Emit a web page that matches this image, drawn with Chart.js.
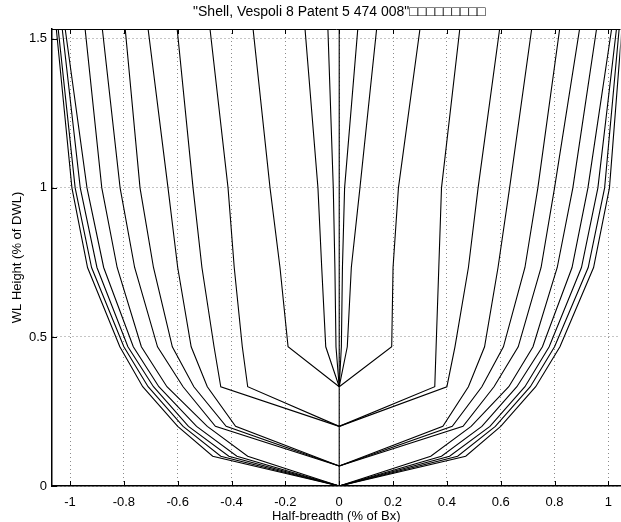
<!DOCTYPE html>
<html>
<head>
<meta charset="utf-8">
<script src="https://cdn.jsdelivr.net/npm/chart.js@4/dist/chart.umd.min.js"></script>
<style>
    html, body { margin: 0; padding: 0; background: #fff; }
    #wrap { width: 621px; height: 522px; }
</style>
</head>
<body>
<div id="wrap"><canvas id="bodyPlan" width="621" height="522"></canvas></div>
<script>
// Waterline heights (% of DWL) where each section has a vertex
const waterlines = [0, 0.067, 0.1, 0.2, 0.333, 0.467, 0.733, 1.0, 1.533];

// Half-breadths per section, left half of the plan (null = no vertex there)
const leftStations = [
    [0, null, 0.47, 0.60, 0.73, 0.815, 0.935, 0.993, 1.051],
    [0, null, 0.44, 0.58, 0.71, 0.80, 0.92, 0.981, 1.044],
    [0, null, 0.41, 0.56, 0.69, 0.785, 0.90, 0.962, 1.029],
    [0, null, 0.38, 0.53, 0.67, 0.765, 0.875, 0.937, 1.018],
    [0, null, 0.34, 0.49, 0.64, 0.735, 0.825, 0.882, 0.944],
    [null, 0, null, 0.46, 0.58, 0.675, 0.76, 0.814, 0.880],
    [null, 0, null, 0.42, 0.54, 0.62, 0.69, 0.740, 0.795],
    [null, 0, null, 0.385, 0.49, 0.55, 0.60, 0.636, 0.710],
    [null, null, null, 0, 0.44, 0.465, 0.51, 0.543, 0.602],
    [null, null, null, 0, 0.34, 0.36, 0.39, 0.413, 0.480],
    [null, null, null, null, 0, 0.19, 0.22, 0.257, 0.320],
    [null, null, null, null, 0, 0.05, 0.065, 0.079, 0.127],
    [null, null, null, null, 0, 0.012, 0.016, 0.022, 0.042]
];

// Half-breadths per section, right half of the plan
const rightStations = [
    [0, null, 0.47, 0.60, 0.73, 0.82, 0.945, 1.004, 1.050],
    [0, null, 0.44, 0.58, 0.71, 0.80, 0.925, 0.986, 1.040],
    [0, null, 0.41, 0.56, 0.69, 0.78, 0.90, 0.961, 1.030],
    [0, null, 0.38, 0.53, 0.66, 0.755, 0.865, 0.924, 1.012],
    [0, null, 0.34, 0.49, 0.63, 0.72, 0.81, 0.868, 0.956],
    [null, 0, null, 0.46, 0.575, 0.665, 0.75, 0.800, 0.893],
    [null, 0, null, 0.42, 0.53, 0.61, 0.69, 0.738, 0.819],
    [null, 0, null, 0.385, 0.48, 0.54, 0.59, 0.633, 0.715],
    [null, null, null, 0, 0.40, 0.43, 0.48, 0.516, 0.596],
    [null, null, null, 0, 0.355, 0.36, 0.37, 0.380, 0.448],
    [null, null, null, null, 0, 0.195, 0.20, 0.22, 0.300],
    [null, null, null, null, 0, 0.03, 0.045, 0.077, 0.139],
    [null, null, null, null, 0, 0.008, 0.012, 0.020, 0.069]
];

// Stem / centre line
const centreLine = [0, null, null, 0, 0, 0, 0, 0, 0];

const xTicks = [-1, -0.8, -0.6, -0.4, -0.2, 0, 0.2, 0.4, 0.6, 0.8, 1];
const yTicks = [0, 0.5, 1, 1.5];

const chartTitle = '"Shell, Vespoli 8 Patent 5 474 008"□□□□□□□□□';

const FONT = '"Liberation Sans", Arial, sans-serif';

const toPoints = (breadths, side) => waterlines
    .map((h, i) => breadths[i] == null ? null : { x: side * breadths[i], y: h })
    .filter(p => p !== null);

const lineStyle = {
    showLine: true,
    borderColor: '#000',
    borderWidth: 1.1,
    pointRadius: 0,
    tension: 0,
    fill: false
};

const datasets = [];
leftStations.forEach(b => datasets.push({ ...lineStyle, data: toPoints(b, -1) }));
rightStations.forEach(b => datasets.push({ ...lineStyle, data: toPoints(b, 1) }));
datasets.push({ ...lineStyle, data: toPoints(centreLine, 1) });

// Title centred over the axes (x = 0), top frame line and inward tick marks
const framePlugin = {
    id: 'frame',
    afterDraw(chart) {
        const { ctx, chartArea: a, scales } = chart;
        ctx.save();
        ctx.fillStyle = '#000';
        ctx.font = '14px ' + FONT;
        ctx.textAlign = 'center';
        ctx.textBaseline = 'middle';
        ctx.fillText(chartTitle, scales.x.getPixelForValue(0), 12);

        ctx.strokeStyle = '#000';
        ctx.lineWidth = 1;
        ctx.beginPath();
        ctx.moveTo(a.left, a.top + 0.5);
        ctx.lineTo(a.right, a.top + 0.5);
        xTicks.forEach(v => {
            const px = Math.round(scales.x.getPixelForValue(v)) + 0.5;
            ctx.moveTo(px, a.bottom);
            ctx.lineTo(px, a.bottom - 5);
            ctx.moveTo(px, a.top);
            ctx.lineTo(px, a.top + 5);
        });
        yTicks.forEach(v => {
            const py = Math.round(scales.y.getPixelForValue(v)) + 0.5;
            ctx.moveTo(a.left, py);
            ctx.lineTo(a.left + 5, py);
        });
        ctx.stroke();
        ctx.restore();
    }
};

new Chart(document.getElementById('bodyPlan'), {
    type: 'scatter',
    data: { datasets },
    plugins: [framePlugin],
    options: {
        responsive: false,
        animation: false,
        layout: { padding: { top: 29, left: 0, right: 0, bottom: 0 } },
        plugins: {
            legend: { display: false },
            tooltip: { enabled: false },
            title: { display: false }
        },
        scales: {
            x: {
                type: 'linear',
                min: -1.067,
                max: 1.045,
                afterBuildTicks: s => { s.ticks = xTicks.map(v => ({ value: v })); },
                afterFit: s => { s.height = 36; },
                ticks: {
                    color: '#000',
                    font: { family: FONT, size: 13 },
                    padding: 9,
                    callback: v => String(v)
                },
                grid: { color: '#8a8a8a', lineWidth: 1, drawTicks: false },
                border: { color: '#000', width: 1.5, dash: [1, 3] },
                title: {
                    display: true,
                    text: 'Half-breadth (% of Bx)',
                    color: '#000',
                    font: { family: FONT, size: 13 },
                    padding: { top: 0, bottom: -2 }
                }
            },
            y: {
                type: 'linear',
                min: 0,
                max: 1.533,
                afterBuildTicks: s => { s.ticks = yTicks.map(v => ({ value: v })); },
                afterFit: s => { s.width = 52; },
                ticks: {
                    color: '#000',
                    font: { family: FONT, size: 13 },
                    padding: 5,
                    callback: v => String(v)
                },
                grid: { color: '#8a8a8a', lineWidth: 1, drawTicks: false },
                border: { color: '#000', width: 1.5, dash: [1, 3] },
                title: {
                    display: true,
                    text: 'WL Height (% of DWL)',
                    color: '#000',
                    font: { family: FONT, size: 13 },
                    padding: { top: 10, bottom: 0 }
                }
            }
        }
    }
});
</script>
</body>
</html>
